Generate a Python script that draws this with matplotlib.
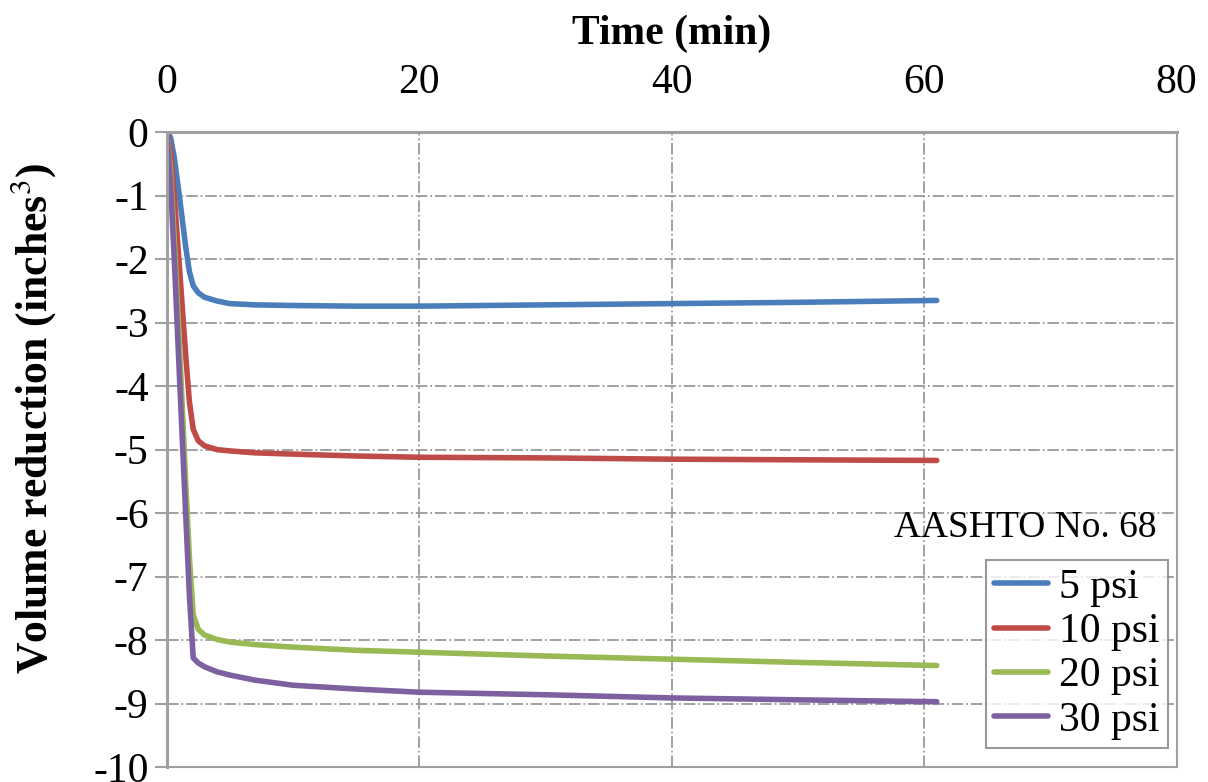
import matplotlib
matplotlib.use('Agg')
import matplotlib.pyplot as plt

plt.rcParams['font.family'] = ['Liberation Serif', 'DejaVu Serif']
plt.rcParams['mathtext.fontset'] = 'stix'
plt.rcParams['axes.unicode_minus'] = False

# ---------------------------------------------------------------------------
# Data
# ---------------------------------------------------------------------------
time_min = [0, 0.3, 0.6, 1.0, 1.5, 1.8, 2.1, 2.5, 3, 4, 5, 7, 10, 15, 20, 30, 40, 50, 61]

psi_5 = [0, -0.08, -0.4, -1.0, -1.8, -2.2, -2.42, -2.53, -2.60, -2.66, -2.70, -2.72,
         -2.73, -2.74, -2.74, -2.72, -2.70, -2.68, -2.65]
psi_10 = [0, -0.3, -1.0, -2.1, -3.5, -4.25, -4.68, -4.86, -4.94, -5.0, -5.02, -5.05,
          -5.07, -5.10, -5.12, -5.13, -5.15, -5.16, -5.17]
psi_20 = [0, -0.6, -1.7, -3.3, -5.5, -6.7, -7.6, -7.83, -7.92, -7.99, -8.03, -8.07,
          -8.11, -8.16, -8.19, -8.25, -8.30, -8.35, -8.40]
psi_30 = [0, -0.8, -2.0, -3.8, -6.0, -7.3, -8.28, -8.36, -8.42, -8.50, -8.55, -8.63,
          -8.71, -8.77, -8.82, -8.86, -8.91, -8.94, -8.97]

series = [("5 psi", psi_5, '#4a7ebb'),
          ("10 psi", psi_10, '#be4b48'),
          ("20 psi", psi_20, '#98b954'),
          ("30 psi", psi_30, '#7d60a0')]

x_ticks = [0, 20, 40, 60, 80]
y_ticks = list(range(0, -11, -1))

# ---------------------------------------------------------------------------
# Figure
# ---------------------------------------------------------------------------
fig = plt.figure(figsize=(12.08, 7.82), dpi=100)
ax = fig.add_axes([0.138, 0.019, 0.836, 0.812])

for label, vals, col in series:
    ax.plot(time_min, vals, color=col, linewidth=4, label=label,
            solid_capstyle='round', solid_joinstyle='round')

ax.set_xlim(0, 80)
ax.set_ylim(-10, 0)
ax.set_xticks(x_ticks)
ax.set_yticks(y_ticks)
ax.xaxis.tick_top()
ax.xaxis.set_label_position('top')

ax.grid(True, color='#9a9a9a', linestyle='-.', linewidth=1.3)
for s in ax.spines.values():
    s.set_color('#a0a0a0')
    s.set_linewidth(1.5)
ax.spines['left'].set_linewidth(2.2)
ax.spines['top'].set_linewidth(2.2)

ax.tick_params(axis='y', direction='out', length=9, width=1.5, color='#a0a0a0',
               labelsize=30, pad=4)
ax.tick_params(axis='x', direction='out', length=0, labelsize=30, pad=22)

ax.set_xlabel('Time (min)', fontsize=30, fontweight='bold', labelpad=14)
ax.set_ylabel('Volume reduction (inches$^{3}$)', fontsize=31.5, fontweight='bold')
ax.yaxis.set_label_coords(-0.108, 0.55)

leg = ax.legend(loc='lower right', bbox_to_anchor=(0.991, 0.03), fontsize=30,
                frameon=True, fancybox=False, handlelength=1.3, handletextpad=0.25,
                labelspacing=0.14, borderpad=0.2, borderaxespad=0)
leg.get_frame().set_edgecolor('#808080')
leg.get_frame().set_linewidth(1.5)

ax.text(0.980, 0.377, 'AASHTO No. 68', transform=ax.transAxes, ha='right',
        va='center', fontsize=27)

fig.savefig('out.png', dpi=100)
